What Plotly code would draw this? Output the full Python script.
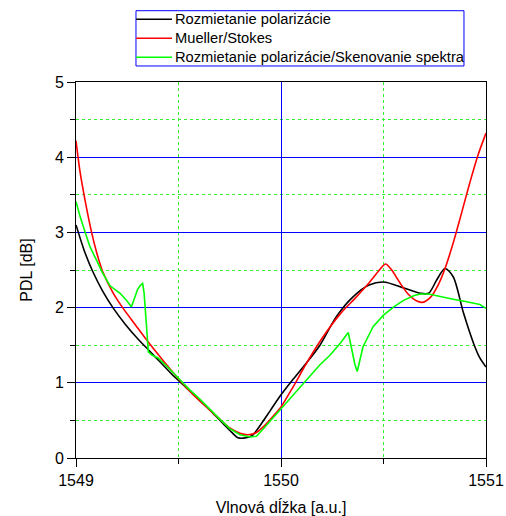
import plotly.graph_objects as go

# ---- data ----
series_names = ["Rozmietanie polarizácie", "Mueller/Stokes",
                "Rozmietanie polarizácie/Skenovanie spektra"]
series_colors = ["#000000", "#ff0000", "#00ff00"]

black_x = [1549.00, 1549.04, 1549.08, 1549.13, 1549.18, 1549.24, 1549.30, 1549.36, 1549.42,
           1549.48, 1549.54, 1549.60, 1549.66, 1549.72, 1549.76, 1549.79, 1549.83, 1549.86,
           1549.90, 1549.95, 1550.00, 1550.06, 1550.12, 1550.19, 1550.27, 1550.35, 1550.43,
           1550.50, 1550.60, 1550.68, 1550.72, 1550.76, 1550.80, 1550.84, 1550.89, 1550.94,
           1550.97, 1551.00]
black_y = [3.10, 2.76, 2.49, 2.22, 2.00, 1.78, 1.59, 1.42, 1.25,
           1.08, 0.93, 0.78, 0.62, 0.45, 0.34, 0.27, 0.27, 0.30,
           0.44, 0.64, 0.84, 1.05, 1.25, 1.50, 1.88, 2.14, 2.30,
           2.34, 2.26, 2.19, 2.19, 2.37, 2.52, 2.41, 1.93, 1.52,
           1.33, 1.21]

red_x = [1549.00, 1549.02, 1549.044, 1549.077, 1549.10, 1549.13, 1549.18, 1549.23, 1549.29,
         1549.345, 1549.40, 1549.46, 1549.52, 1549.58, 1549.64, 1549.70, 1549.75, 1549.80,
         1549.84, 1549.88, 1549.92, 1549.96, 1550.00, 1550.06, 1550.12, 1550.19, 1550.29,
         1550.36, 1550.43, 1550.48, 1550.51, 1550.54, 1550.58, 1550.62, 1550.66, 1550.69,
         1550.73, 1550.77, 1550.80, 1550.84, 1550.88, 1550.92, 1550.96, 1551.00]
red_y = [4.22, 3.80, 3.43, 2.99, 2.74, 2.48, 2.20, 1.99, 1.77,
         1.57, 1.38, 1.18, 0.99, 0.82, 0.67, 0.52, 0.40, 0.33,
         0.31, 0.34, 0.43, 0.55, 0.68, 0.95, 1.24, 1.55, 1.92,
         2.12, 2.33, 2.50, 2.58, 2.50, 2.33, 2.18, 2.09, 2.07,
         2.14, 2.32, 2.52, 2.86, 3.25, 3.65, 4.02, 4.32]

green_x = [1549.00, 1549.02, 1549.045, 1549.068, 1549.10, 1549.13, 1549.166, 1549.19, 1549.215,
           1549.245, 1549.27, 1549.285, 1549.30, 1549.315, 1549.325, 1549.332, 1549.338, 1549.345,
           1549.353, 1549.37, 1549.40, 1549.45, 1549.507, 1549.55, 1549.605, 1549.65, 1549.70,
           1549.75, 1549.80, 1549.85, 1549.88, 1549.914, 1549.95, 1549.995, 1550.08, 1550.158,
           1550.19, 1550.24, 1550.29, 1550.328, 1550.337, 1550.345, 1550.36, 1550.372, 1550.385,
           1550.40, 1550.45, 1550.50, 1550.55, 1550.60, 1550.65, 1550.68, 1550.72, 1550.78,
           1550.84, 1550.90, 1550.94, 1550.97, 1551.00]
green_y = [3.41, 3.21, 3.00, 2.81, 2.63, 2.46, 2.29, 2.24, 2.19,
           2.10, 2.01, 2.12, 2.24, 2.30, 2.32, 2.20, 1.95, 1.65,
           1.41, 1.37, 1.33, 1.20, 1.04, 0.92, 0.78, 0.65, 0.52,
           0.39, 0.31, 0.28, 0.29, 0.39, 0.50, 0.64, 0.89, 1.13,
           1.24, 1.37, 1.53, 1.67, 1.55, 1.44, 1.25, 1.15, 1.30,
           1.48, 1.75, 1.90, 2.01, 2.10, 2.16, 2.18, 2.18, 2.14,
           2.11, 2.08, 2.06, 2.04, 1.99]

x_ticks = [1549, 1550, 1551]
y_ticks = [0, 1, 2, 3, 4, 5]
x_title = "Vlnová dĺžka [a.u.]"
y_title = "PDL [dB]"

# ---- figure ----
fig = go.Figure()
series = [
    (series_names[0], series_colors[0], black_x, black_y, "spline"),
    (series_names[1], series_colors[1], red_x, red_y, "spline"),
    (series_names[2], series_colors[2], green_x, green_y, "linear"),
]
for name, col, xs, ys, shape in series:
    fig.add_trace(go.Scatter(x=xs, y=ys, mode="lines", name=name, showlegend=False,
                             line=dict(color=col, width=1.6, shape=shape,
                                       smoothing=0.8 if shape == "spline" else None)))

font_family = "Liberation Sans, Arial, sans-serif"
axis_common = dict(
    ticks="outside", ticklen=8, tickwidth=1, tickcolor="black",
    showline=True, linecolor="black", linewidth=1, mirror=True,
    showgrid=True, gridcolor="#0000ff", gridwidth=1, zeroline=False,
    tickfont=dict(size=16, color="black", family=font_family),
    minor=dict(dtick=0.5, ticks="outside", ticklen=5, tickcolor="black",
               showgrid=True, gridcolor="#33ee33", griddash="dot", gridwidth=1),
)

# legend box drawn in paper coordinates (plot area: 410 x 376 px)
shapes = [dict(type="rect", xref="paper", yref="paper",
               x0=0.1463, x1=0.9463, y0=1.0426, y1=1.1896,
               line=dict(color="#0000ff", width=1), fillcolor="white", layer="above")]
annotations = []
legend_rows = [1.1668, 1.1162, 1.0657]
for (name, col, _, _, _), yy in zip(series, legend_rows):
    shapes.append(dict(type="line", xref="paper", yref="paper",
                       x0=0.1463, x1=0.2341, y0=yy, y1=yy,
                       line=dict(color=col, width=1.6)))
    annotations.append(dict(text=name, xref="paper", yref="paper",
                            x=0.2366, y=yy, xanchor="left", yanchor="middle",
                            showarrow=False,
                            font=dict(size=14.7, family=font_family, color="black")))

fig.update_layout(
    width=506, height=516,
    margin=dict(l=76, r=20, t=82, b=58),
    paper_bgcolor="white", plot_bgcolor="white",
    font=dict(family=font_family, color="black"),
    showlegend=False,
    shapes=shapes, annotations=annotations,
    xaxis=dict(range=[1549, 1551], tickvals=x_ticks, ticktext=[str(v) for v in x_ticks],
               title=dict(text=x_title, font=dict(size=16), standoff=13),
               automargin=False, **axis_common),
    yaxis=dict(range=[0, 5], tickvals=y_ticks, ticktext=[str(v) for v in y_ticks],
               title=dict(text=y_title, font=dict(size=16), standoff=18),
               automargin=False, **axis_common),
)

fig.write_html("out.html")
